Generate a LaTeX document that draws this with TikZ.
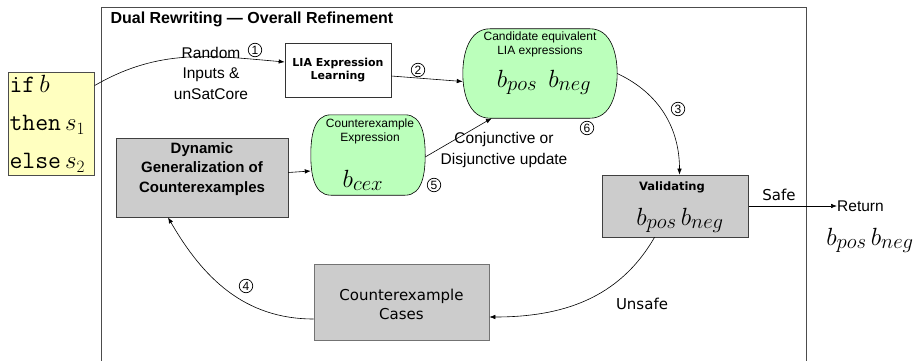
\documentclass[tikz,border=0pt]{standalone}
\usepackage{fontspec}
\setmainfont{Liberation Sans}
\newfontfamily\dejavu{DejaVu Sans}
\usetikzlibrary{arrows.meta,calc}
\definecolor{codeyellow}{HTML}{FFFFC0}
\definecolor{candgreen}{HTML}{BBFFBB}
\definecolor{stepgray}{HTML}{CCCCCC}
\newcommand{\codemath}[1]{{\fontsize{26}{38}\selectfont$\,#1$}}

\begin{document}
\begin{tikzpicture}[x=1pt,y=-1pt,
 flow/.style={-{Latex[length=6pt,width=4.5pt]},line width=0.6pt},
 graybox/.style={draw=black!75,fill=stepgray,line width=0.7pt,inner sep=0pt},
 greenbox/.style={inner sep=0pt},
 lbl/.style={font=\fontsize{15.5}{20.5}\selectfont,align=center,inner sep=0pt},
 dvlbl/.style={font=\dejavu\fontsize{15}{19}\selectfont,align=center,inner sep=0pt},
 small/.style={font=\fontsize{12}{14}\selectfont,align=center,inner sep=0pt},
 bigmath/.style={font=\fontsize{30}{32}\selectfont,inner sep=0pt},
 circnum/.style={draw,circle,line width=0.7pt,minimum size=13.5pt,inner sep=0pt,font=\fontsize{12}{12}\selectfont}]
\useasboundingbox (0,0) rectangle (920,361);

% outer frame and title
\draw[black!70,line width=0.8pt] (101,365) -- (101,7) -- (806,7) -- (806,365);
\node[anchor=base west,font=\bfseries\fontsize{16}{17}\selectfont] (title) at (107,24) {Dual Rewriting — Overall Refinement};

% input program
\node[draw=black!70,fill=codeyellow,minimum width=86pt,minimum height=103pt,text width=84pt,inner sep=1pt,align=left,
  font=\ttfamily\fontsize{25}{38}\selectfont] (code) at (51.5,123.5)
  {if\codemath{b}\\then\codemath{s_1}\\else\codemath{s_2}};

% learning step
\node[draw=black!80,fill=white,minimum width=106pt,minimum height=54pt,align=center,line width=0.6pt,
  font=\dejavu\bfseries\fontsize{11}{13}\selectfont] (lia) at (338,70) {LIA Expression\\Learning};

% green expression blobs
\node[greenbox,minimum width=154pt,minimum height=89pt] (cand) at (540,73.5) {};
\node[greenbox,minimum width=114pt,minimum height=80pt] (cex) at (368,155) {};
\foreach \n/\r in {cand/27,cex/20}
  \filldraw[fill=candgreen,line width=0.6pt] ($(\n.north west)+(\r,0)$) -- ($(\n.north east)+(-\r,0)$)
    to[out=0,in=90] (\n.east) to[out=-90,in=0] ($(\n.south east)+(-\r,0)$)
    -- ($(\n.south west)+(\r,0)$) to[out=180,in=-90] (\n.west) to[out=90,in=180] cycle;
\node[small] (candtxt) at (540,44) {Candidate equivalent\\LIA expressions};
\node[bigmath,anchor=base] (candmath) at (544,87) {$b_{pos}\;\, b_{neg}$};
\node[small] (cextxt) at (370,131) {Counterexample\\Expression};
\node[bigmath,anchor=base] (cexmath) at (363,187) {$b_{cex}$};

% generalization
\node[graybox,minimum width=172pt,minimum height=79pt] (dyn) at (202,177.5) {};
\node[align=center,inner sep=0pt,font=\bfseries\fontsize{15}{19.5}\selectfont] (dyntxt) at (202,169) {Dynamic\\Generalization of\\Counterexamples};

% validation
\node[graybox,minimum width=146pt,minimum height=62pt] (val) at (675.5,206) {};
\node[inner sep=0pt,font=\dejavu\bfseries\fontsize{11.5}{13}\selectfont] (valtxt) at (672,187) {Validating};
\node[bigmath,anchor=base] (valmath) at (680,225) {$b_{pos}\, b_{neg}$};

% counterexample cases
\node[graybox,draw=black!55,minimum width=175pt,minimum height=76pt] (cases) at (401.5,302) {};
\node[dvlbl] (casestxt) at (401.5,304.5) {Counterexample\\Cases};

% result
\node[lbl,anchor=west] (ret) at (837,206) {Return};
\node[bigmath,anchor=base] (retmath) at (870,245) {$b_{pos}\, b_{neg}$};

% edge labels
\node[lbl] (rnd) at (211,73) {Random\\Inputs \&\\unSatCore};
\node[lbl] (upd) at (504,150) {Conjunctive or\\Disjunctive update};
\node[dvlbl] (safe) at (779,195) {Safe};
\node[dvlbl] (unsafe) at (642,304) {Unsafe};
\foreach \px/\py [count=\i] in {255/50,418/70,678/109,246/286,434/185,587/128}
  \node[circnum] (num\i) at (\px,\py) {\i};

% connectors
\draw[flow] ($(code.east)+(0,-38)$) to[out=30,in=175] ($(lia.west)+(0,-8)$);
\draw[flow] ($(lia.east)+(0,6)$) -- ($(cand.west)+(0,8)$);
\draw[flow] (cand.east) to[out=-25,in=90] ($(val.north)+(4,0)$);
\draw[flow] ($(val.south)+(-21,0)$) to[out=-120,in=0] ($(cases.east)+(0,15)$);
\draw[flow] ($(cases.west)+(0,17)$) to[out=180,in=-60] ($(dyn.south)+(-34,0)$);
\draw[flow] ($(dyn.east)+(0,-5)$) -- ($(cex.west)+(0,16)$);
\draw[flow] ($(cex.east)+(0,2)$) -- ($(cand.south west)+(29,0)$);
\draw[flow] (val.east) -- (ret.west);
\end{tikzpicture}
\end{document}
